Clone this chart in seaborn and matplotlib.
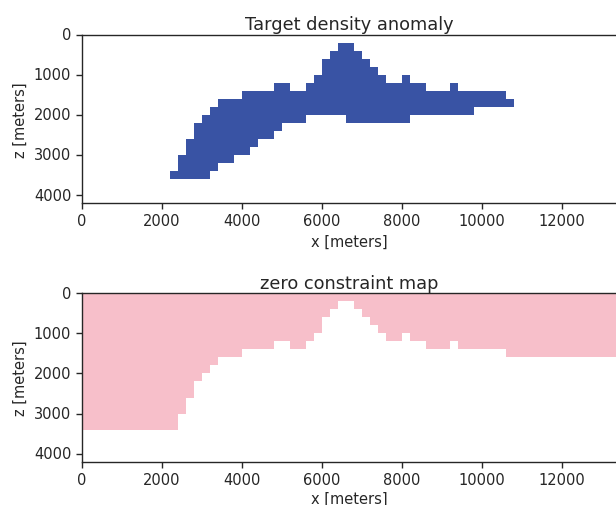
import numpy as np
import matplotlib
matplotlib.use("Agg")
import matplotlib.pyplot as plt
from matplotlib.colors import ListedColormap
import seaborn as sns

# model grid (meters)
cell = 200
x_max = 13400
z_max = 4200

# target body: left edge of each 200 m column, with top and bottom depth
body_x = [2200, 2400, 2600, 2800, 3000, 3200, 3400, 3600, 3800, 4000,
          4200, 4400, 4600, 4800, 5000, 5200, 5400, 5600, 5800, 6000,
          6200, 6400, 6600, 6800, 7000, 7200, 7400, 7600, 7800, 8000,
          8200, 8400, 8600, 8800, 9000, 9200, 9400, 9600, 9800, 10000,
          10200, 10400, 10600]
body_top = [3400, 3000, 2600, 2200, 2000, 1800, 1600, 1600, 1600, 1400,
            1400, 1400, 1400, 1200, 1200, 1400, 1400, 1200, 1000, 600,
            400, 200, 200, 400, 600, 800, 1000, 1200, 1200, 1000,
            1200, 1200, 1400, 1400, 1400, 1200, 1400, 1400, 1400, 1400,
            1400, 1400, 1600]
body_bottom = [3600, 3600, 3600, 3600, 3600, 3400, 3200, 3200, 3000, 3000,
               2800, 2600, 2600, 2400, 2200, 2200, 2200, 2000, 2000, 2000,
               2000, 2000, 2200, 2200, 2200, 2200, 2200, 2200, 2200, 2200,
               2000, 2000, 2000, 2000, 2000, 2000, 2000, 2000, 1800, 1800,
               1800, 1800, 1800]

# zero constraint: depth above which the model is fixed, as steps starting at x
zero_x = [0, 2400, 2600, 2800, 3000, 3200, 3400, 4000, 4800, 5200, 5600,
          5800, 6000, 6200, 6400, 6800, 7000, 7200, 7400, 7600, 8000, 8200,
          8600, 9200, 9400, 10600]
zero_depth = [3400, 3000, 2600, 2200, 2000, 1800, 1600, 1400, 1200, 1400, 1200,
              1000, 600, 400, 200, 400, 600, 800, 1000, 1200, 1000, 1200,
              1400, 1200, 1400, 1600]

nx = x_max // cell
nz = z_max // cell
zc = (np.arange(nz) + 0.5) * cell
xc = (np.arange(nx) + 0.5) * cell

density = np.full((nz, nx), np.nan)
for x0, t, b in zip(body_x, body_top, body_bottom):
    j = x0 // cell
    density[(zc > t) & (zc < b), j] = 1.0

zero = np.full((nz, nx), np.nan)
for j in range(nx):
    k = np.searchsorted(zero_x, xc[j]) - 1
    zero[zc < zero_depth[k], j] = 1.0

sns.set_theme(style="ticks")
plt.rcParams['font.family'] = ['DejaVu Sans']

fig = plt.figure(figsize=(6.16, 5.06), dpi=100)
ax1 = fig.add_axes([0.1326, 0.5968, 0.870, 0.3326])
ax2 = fig.add_axes([0.1326, 0.0856, 0.870, 0.3328])

panels = [(ax1, density, "#3953a4", "Target density anomaly", 4.0),
          (ax2, zero, "#f7bfca", "zero constraint map", 2.5)]

for ax, grid, color, title, lpad in panels:
    sns.heatmap(grid, mask=np.isnan(grid), cmap=ListedColormap([color]),
                cbar=False, ax=ax, vmin=0, vmax=1)
    for s in ax.spines.values():
        s.set_visible(True)
        s.set_color('.15')
        s.set_linewidth(1.0)
    xt = np.arange(0, 13000, 2000)
    zt = np.arange(0, 5000, 1000)
    ax.set_xticks(xt / cell)
    ax.set_xticklabels([str(v) for v in xt], rotation=0, fontsize=10.5)
    ax.set_yticks(zt / cell)
    ax.set_yticklabels([str(v) for v in zt], rotation=0, fontsize=10.5)
    ax.tick_params(length=4, width=1.0, color='.15', labelcolor='.15')
    ax.set_xlabel('x [meters]', fontsize=10.5, color='.15', labelpad=lpad)
    ax.set_ylabel('z [meters]', fontsize=10.5, color='.15')
    ax.set_title(title, fontsize=12.8, color='.15', pad=4)

fig.savefig('out.png', dpi=100)
